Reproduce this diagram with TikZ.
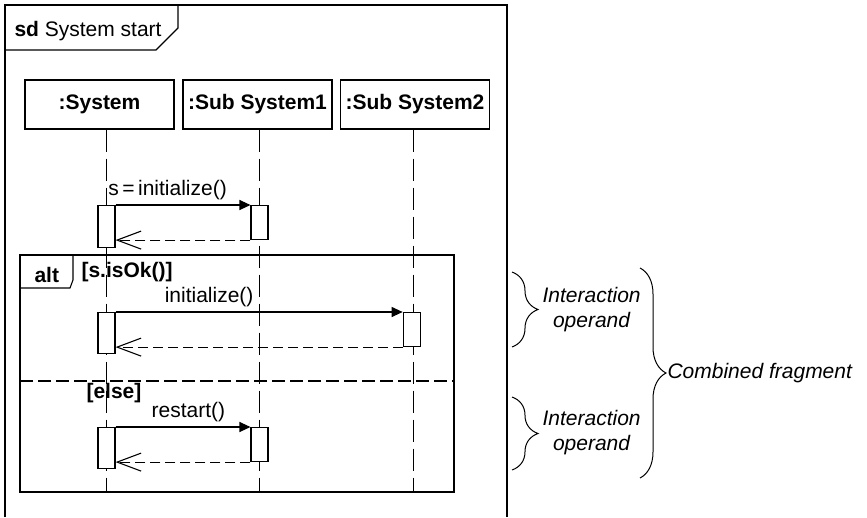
\documentclass[tikz,border=0pt]{standalone}
\usepackage{fontspec}
\setmainfont{Liberation Sans}
\usetikzlibrary{calc, positioning}
\usetikzlibrary{arrows.meta}
\usetikzlibrary{decorations.pathreplacing}

\begin{document}
\begin{tikzpicture}[x=1pt, y=-1pt, line width=1.1pt,
  every node/.style={font=\fontsize{21}{26}\selectfont},
  objbox/.style={draw, minimum width=149pt, minimum height=49pt, inner sep=0pt, font=\fontsize{21}{26}\selectfont\bfseries},
  actbox/.style={draw, fill=white, minimum width=17pt, inner sep=0pt, anchor=north},
  lifeline/.style={dash pattern=on 22pt off 7pt, line width=0.9pt},
  opsep/.style={dash pattern=on 13pt off 5pt},
  call/.style={-{Triangle[length=11pt, width=10pt]}},
  reply/.style={dash pattern=on 10pt off 5pt, -{Straight Barb[length=24pt, width=18pt]}},
  msglabel/.style={anchor=base, yshift=10pt},
  guard/.style={anchor=base west, inner sep=0pt, font=\fontsize{21}{26}\selectfont\bfseries},
  note/.style={anchor=west, align=center, inner sep=2pt, font=\fontsize{21}{25}\selectfont\itshape},
  curly/.style={decorate, decoration={brace, amplitude=26pt}, line width=1pt}]
\def\xsys{106}
\def\xsubA{259.5}
\def\xsubB{413}
\def\ybot{492}
\useasboundingbox (0,0) rectangle (867,517);
\coordinate (sysend) at (\xsys,\ybot);
\coordinate (subAend) at (\xsubA,\ybot);
\coordinate (subBend) at (\xsubB,\ybot);

% diagram frame
\draw (5,517) -- (5,5) -- (507,5) -- (507,517);
\draw (5,50) -- (156,50) -- (178,28) -- (178,5);
\node[anchor=base west, inner sep=0pt] (sdlabel) at (14,36) {\textbf{sd} System start};

% lifelines
\node[objbox] (sys) at (99.5,104.5) {:System};
\node[objbox] (subA) at (257.5,104.5) {:Sub System1};
\node[objbox] (subB) at (415,104.5) {:Sub System2};
\draw[lifeline] (sys.south -| sysend) -- (sysend);
\draw[lifeline] (subA.south -| subAend) -- (subAend);
\draw[lifeline] (subB.south -| subBend) -- (subBend);

% alt fragment
\draw (20,255) rectangle (454,\ybot);
\draw (20,288) -- (70,288) -- (73,280) -- (73,255);
\node[guard] (altlabel) at (34,282) {alt};
\node[guard] (guardok) at (81,277) {[s.isOk()]};
\draw[opsep] (20,381) -- (454,381);
\node[guard] (guardelse) at (86,398) {[else]};

% activations
\node[actbox, minimum height=42pt] (sysA) at (106.5,205) {};
\node[actbox, minimum height=34pt] (subAA) at (259.5,205) {};
\node[actbox, minimum height=41pt] (sysB) at (106.5,312) {};
\node[actbox, minimum height=34pt] (subBB) at (411.7,312) {};
\node[actbox, minimum height=41pt] (sysC) at (106.5,427) {};
\node[actbox, minimum height=34pt] (subAC) at (259.5,427) {};

% messages
\draw[call] (sysA.north east) -- node[msglabel, pos=0.386] {s\,=\,initialize()} (subAA.north west);
\draw[reply] (subAA.south west) -- (subAA.south west -| sysA.east);
\draw[call] (sysB.north east) -- node[msglabel, pos=0.326] {initialize()} (subBB.north west);
\draw[reply] (subBB.south west) -- (subBB.south west -| sysB.east);
\draw[call] (sysC.north east) -- node[msglabel, pos=0.54] {restart()} (subAC.north west);
\draw[reply] (subAC.south west) -- (subAC.south west -| sysC.east);

% braces
\draw[curly] (512,272) -- (512,347);
\node[note] (opA) at (540,310) {Interaction\\operand};
\draw[curly] (512,397) -- (512,470);
\node[note] (opB) at (540,433) {Interaction\\operand};
\draw[curly] (640,268) -- (640,478);
\node[note] (comb) at (665,373) {Combined fragment};
\end{tikzpicture}
\end{document}
